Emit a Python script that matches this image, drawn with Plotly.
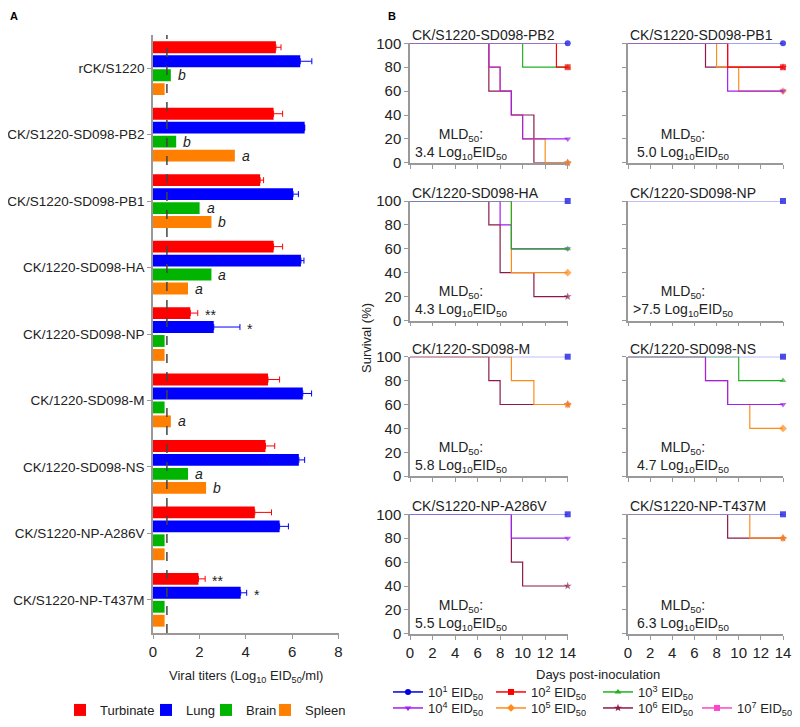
import plotly.graph_objects as go

# the page body has an 8px margin, so the figure is a bit smaller than the window
PAGE_W, PAGE_H, PAD = 800, 727, 8
W, H = PAGE_W - 2 * PAD, PAGE_H - 2 * PAD

# %% panel A data - viral titers (Log10 EID50/ml)
strains = ["rCK/S1220", "CK/S1220-SD098-PB2", "CK/S1220-SD098-PB1", "CK/1220-SD098-HA",
           "CK/1220-SD098-NP", "CK/1220-SD098-M", "CK/1220-SD098-NS",
           "CK/S1220-NP-A286V", "CK/S1220-NP-T437M"]
tissues = ["Turbinate", "Lung", "Brain", "Spleen"]
turbinate = [5.3, 5.2, 4.62, 5.2, 1.61, 4.96, 4.85, 4.39, 1.96]
turbinate_err = [0.22, 0.39, 0.15, 0.39, 0.32, 0.5, 0.4, 0.72, 0.29]
lung = [6.35, 6.54, 6.04, 6.38, 2.62, 6.46, 6.29, 5.46, 3.78]
lung_err = [0.5, 0, 0.23, 0.13, 1.13, 0.38, 0.25, 0.38, 0.26]
brain = [0.77, 1.0, 2.01, 2.52, 0.5, 0.5, 1.51, 0.5, 0.5]
spleen = [0.5, 3.53, 2.52, 1.51, 0.5, 0.77, 2.29, 0.5, 0.5]
turbinate_marks = ["", "", "", "", "**", "", "", "", "**"]
lung_marks = ["", "", "", "", "*", "", "", "", "*"]
brain_marks = ["b", "b", "a", "a", "", "", "a", "", ""]
spleen_marks = ["", "a", "b", "a", "", "a", "b", "", ""]
detection_limit = 0.6

# %% panel B data - survival
panels = ["CK/S1220-SD098-PB2", "CK/S1220-SD098-PB1", "CK/1220-SD098-HA", "CK/1220-SD098-NP",
          "CK/1220-SD098-M", "CK/1220-SD098-NS", "CK/S1220-NP-A286V", "CK/S1220-NP-T437M"]
mld50 = ["3.4", "5.0", "4.3", ">7.5", "5.8", "4.7", "5.5", "6.3"]
top_symbol = ["circle", "circle", "square", "square", "square", "square", "square", "square"]
doses = ["10<sup>%d</sup> EID<sub>50</sub>" % i for i in range(1, 8)]
# dose exponent -> (days where survival changes, survival after each change)
surv_pb2 = {6: ([7, 9, 11], [60, 40, 0]), 5: ([7, 8, 9, 10, 12], [80, 60, 40, 20, 0]),
            4: ([7, 8, 9, 10], [80, 60, 40, 20]), 3: ([10], [80]), 2: ([13], [80]), 1: ([], [])}
surv_pb1 = {6: ([7], [80]), 5: ([8, 10], [80, 60]), 4: ([9], [60]), 2: ([9], [80]), 1: ([], [])}
surv_ha = {6: ([7, 8, 11], [80, 40, 20]), 5: ([9], [40]), 4: ([8, 9], [80, 60]),
           3: ([9], [60]), 1: ([], [])}
surv_np = {1: ([], [])}
surv_m = {6: ([7, 8], [80, 60]), 5: ([9, 11], [80, 60]), 1: ([], [])}
surv_ns = {5: ([7, 9, 11], [80, 60, 40]), 4: ([7, 9], [80, 60]), 3: ([10], [80]), 1: ([], [])}
surv_a286v = {6: ([9, 10], [60, 40]), 4: ([9], [80]), 1: ([], [])}
surv_t437m = {6: ([9], [80]), 5: ([11], [80]), 1: ([], [])}
survival = [surv_pb2, surv_pb1, surv_ha, surv_np, surv_m, surv_ns, surv_a286v, surv_t437m]

bar_colors = ["#ff0000", "#0000ff", "#00b400", "#ff8000"]
dose_colors = {1: "#0000e0", 2: "#ff0000", 3: "#22b022", 4: "#a020f0",
               5: "#ff8c1a", 6: "#8b1a4a", 7: "#ff44cc"}
dose_symbols = {1: "circle", 2: "square", 3: "triangle-up", 4: "triangle-down",
                5: "diamond", 6: "star", 7: "square"}

FONT = "Liberation Sans, Arial, sans-serif"
GREY = "#999999"
TXT = "#222222"


def px(x):
    # page pixel -> paper fraction
    return (x - PAD) / W


def py(y):
    return 1 - (y - PAD) / H


fig = go.Figure()

# %% panel A bars
values = [turbinate, lung, brain, spleen]
errors = [turbinate_err, lung_err, None, None]
marks = [turbinate_marks, lung_marks, brain_marks, spleen_marks]
a_legend_x = [60, 146, 206, 265]
for k, name in enumerate(tissues):
    err = dict(visible=False)
    if errors[k] is not None:
        err = dict(type="data", symmetric=False, array=errors[k], arrayminus=[0] * len(strains),
                   color=bar_colors[k], thickness=1, width=3, visible=True)
    fig.add_trace(go.Bar(y=strains, x=values[k], orientation="h", name=name,
                         marker=dict(color=bar_colors[k], line=dict(width=0)),
                         error_x=err, xaxis="x", yaxis="y",
                         legend="legend" if k == 0 else "legend%d" % (k + 1)))

annotations = []
for k in range(4):
    for i, s in enumerate(strains):
        if not marks[k][i]:
            continue
        end = values[k][i] + (errors[k][i] if errors[k] is not None else 0)
        txt = marks[k][i] if "*" in marks[k][i] else "<i>%s</i>" % marks[k][i]
        annotations.append(dict(x=end, y=s, xref="x", yref="y", text=txt, showarrow=False,
                                xanchor="left", yanchor="middle", xshift=5,
                                yshift=(1.5 - k) * 14 - (2 if "*" in txt else 0),
                                font=dict(size=14, color=TXT)))

# %% panel B survival curves
col_x = [(410, 567.7), (628, 783)]
row_top = [43.3, 201, 356.7, 514.3]
row_h = 119.5
axes = {}
for p, name in enumerate(panels):
    n = p + 2
    r, c = p // 2, p % 2
    xa, ya = "x%d" % n, "y%d" % n
    for d in sorted(survival[p].keys(), reverse=True):
        days, surv = survival[p][d]
        xs = [0] + days + [14]
        ys = [100] + surv + [surv[-1] if surv else 100]
        sym = top_symbol[p] if d == 1 else dose_symbols[d]
        fig.add_trace(go.Scatter(x=xs, y=ys, mode="lines+markers", line=dict(shape="hv", width=1.2,
                                 color="#8080f0" if d == 1 else dose_colors[d]),
                                 marker=dict(size=[0] * (len(xs) - 1) + [6], symbol=sym,
                                             color=dose_colors[d], line=dict(width=0)),
                                 cliponaxis=False, showlegend=False, xaxis=xa, yaxis=ya,
                                 hoverinfo="skip"))
    axes["xaxis%d" % n] = dict(domain=[px(col_x[c][0]), px(col_x[c][1])], anchor=ya, range=[0, 14],
                               dtick=2, showticklabels=(r == 3), ticks="outside", ticklen=4,
                               showline=True, linecolor=GREY, linewidth=1.5, tickcolor=GREY,
                               showgrid=False, zeroline=False, ticklabeloverflow="allow",
                               tickfont=dict(size=15, color=TXT))
    axes["yaxis%d" % n] = dict(domain=[py(row_top[r] + row_h), py(row_top[r])], anchor=xa,
                               range=[0, 100], dtick=20, showticklabels=(c == 0), ticks="outside",
                               ticklen=4, showline=True, linecolor=GREY, linewidth=1.5, tickcolor=GREY,
                               showgrid=False, zeroline=False, tickfont=dict(size=15, color=TXT))
    annotations.append(dict(x=px(col_x[c][0]), y=py(row_top[r] - 8), xref="paper", yref="paper",
                            text=name, showarrow=False, xanchor="left", yanchor="middle",
                            font=dict(size=14, color=TXT)))
    annotations.append(dict(x=4.5 if c == 0 else 5.0, y=16, xref=xa, yref=ya,
                            xanchor="center", yanchor="middle",
                            text="MLD<sub>50</sub>:<br>%s Log<sub>10</sub>EID<sub>50</sub>" % mld50[p],
                            showarrow=False, align="center", font=dict(size=14, color=TXT)))

# legend-only entries for the doses
b_legend_x = [388, 491, 598, 388, 491, 598, 697]
b_legend_y = [692, 692, 692, 708, 708, 708, 708]
legends = {}
for i in range(7):
    d = i + 1
    lg = "legend%d" % (5 + i)
    fig.add_trace(go.Scatter(x=[None], y=[None], mode="lines+markers", name=doses[i],
                             line=dict(color=dose_colors[d], width=1.5),
                             marker=dict(size=6, symbol=dose_symbols[d], color=dose_colors[d]),
                             xaxis="x2", yaxis="y2", legend=lg))
    legends[lg] = dict(x=px(b_legend_x[i]), y=py(b_legend_y[i]), xanchor="left", yanchor="middle",
                       orientation="h", bgcolor="rgba(0,0,0,0)", itemwidth=30,
                       font=dict(size=13, color=TXT))
for k in range(4):
    lg = "legend" if k == 0 else "legend%d" % (k + 1)
    legends[lg] = dict(x=px(a_legend_x[k]), y=py(710), xanchor="left", yanchor="middle",
                       orientation="h", bgcolor="rgba(0,0,0,0)", itemwidth=30,
                       font=dict(size=13, color=TXT))

annotations += [
    dict(x=0, y=1, xref="paper", yref="paper", text="<b>A</b>", showarrow=False,
         xanchor="left", yanchor="top", font=dict(size=11, color="#000")),
    dict(x=px(386), y=1, xref="paper", yref="paper", text="<b>B</b>", showarrow=False,
         xanchor="left", yanchor="top", font=dict(size=11, color="#000")),
    dict(x=px(246), y=py(676), xref="paper", yref="paper", xanchor="center", yanchor="middle",
         text="Viral titers (Log<sub>10</sub> EID<sub>50</sub>/ml)", showarrow=False,
         font=dict(size=13, color=TXT)),
    dict(x=px(366), y=py(338), xref="paper", yref="paper", text="Survival (%)", textangle=-90,
         xanchor="center", yanchor="middle", showarrow=False, font=dict(size=13, color=TXT)),
    dict(x=px(598), y=py(674), xref="paper", yref="paper", text="Days post-inoculation",
         xanchor="center", yanchor="middle", showarrow=False, font=dict(size=13, color=TXT)),
]

fig.update_layout(
    width=W, height=H, margin=dict(l=0, r=0, t=0, b=0, autoexpand=False),
    plot_bgcolor="white", paper_bgcolor="white",
    font=dict(family=FONT, size=13, color=TXT),
    barmode="group", bargap=0.16, bargroupgap=0.15, showlegend=True,
    xaxis=dict(domain=[px(153), px(338.5)], range=[0, 8], dtick=2, ticks="outside", ticklen=4,
               showline=True, linecolor=GREY, linewidth=1.5, tickcolor=GREY, showgrid=False,
               zeroline=False, anchor="y", tickfont=dict(size=15, color=TXT)),
    yaxis=dict(domain=[py(633), py(35)], autorange="reversed", type="category", ticks="outside",
               ticklen=4, showline=True, linecolor=GREY, linewidth=1.5, tickcolor=GREY,
               showgrid=False, anchor="x", tickfont=dict(size=13.5, color=TXT)),
    shapes=[dict(type="line", xref="x", yref="y domain", x0=detection_limit, x1=detection_limit,
                 y0=0, y1=1, line=dict(color="#444", width=1.5, dash="dash"))],
    annotations=annotations,
    **axes, **legends,
)

fig.write_html("out.html")
